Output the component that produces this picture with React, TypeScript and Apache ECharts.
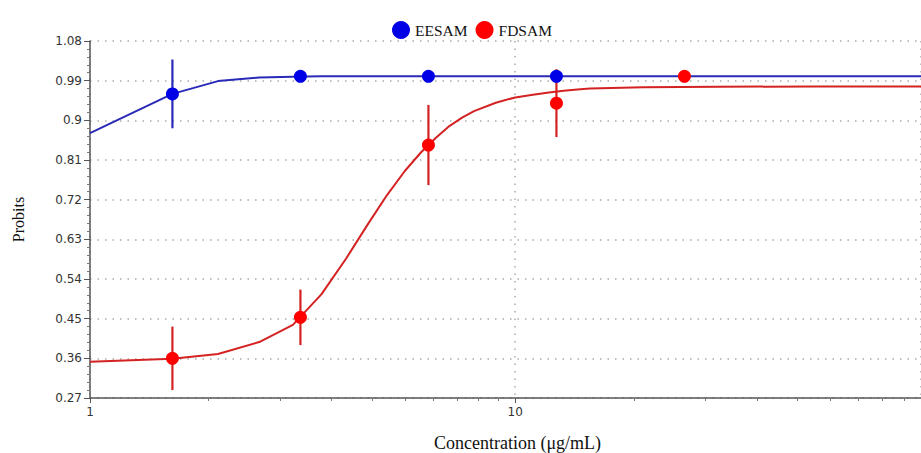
import React, { useEffect, useRef } from "react";
import * as echarts from "echarts";

// Measured points (concentration, probit)
const doseX = [1.5625, 3.125, 6.25, 12.5, 25];
const eesamY = [0.96, 1.0, 1.0, 1.0];
const eesamErr = [0.078, 0, 0, 0];
const fdsamY = [0.36, 0.453, 0.844, 0.939, 1.0];
const fdsamErr = [0.072, 0.063, 0.091, 0.077, 0];

// Fitted curves
const fitX = [1, 1.5625, 2, 2.5, 3, 3.5, 4, 4.5, 5, 5.5, 6, 6.5, 7, 7.5, 8, 9, 10, 11, 12, 13, 14, 15, 20, 30, 50, 90];
const eesamFit = [0.871, 0.96, 0.989, 0.997, 0.999, 1.0, 1.0, 1.0, 1.0, 1.0, 1.0, 1.0, 1.0, 1.0, 1.0, 1.0, 1.0, 1.0, 1.0, 1.0, 1.0, 1.0, 1.0, 1.0, 1.0, 1.0];
const fdsamFit = [0.352, 0.359, 0.37, 0.397, 0.436, 0.505, 0.586, 0.664, 0.731, 0.785, 0.827, 0.86, 0.887, 0.906, 0.921, 0.94, 0.952, 0.958, 0.963, 0.967, 0.97, 0.972, 0.975, 0.976, 0.977, 0.977];

const seriesNames = ["EESAM", "FDSAM"];
const yTicks = { min: 0.27, max: 1.08, interval: 0.09 };
const xRange = { min: 1, max: 90 };

const BLUE = "#0000e6";
const BLUE_LINE = "#2a2ab8";
const RED = "#ff0000";
const RED_LINE = "#d42222";

function errorSeries(name: string, ys: number[], errs: number[], color: string, z: number) {
  const data = ys.map((y, i) => [doseX[i], y, errs[i]]).filter((d) => d[2] > 0);
  return {
    type: "custom",
    name: name + " err",
    z,
    data,
    encode: { x: 0, y: 1 },
    renderItem: (params: any, api: any) => {
      const x = api.value(0);
      const y = api.value(1);
      const e = api.value(2);
      const p1 = api.coord([x, y - e]);
      const p2 = api.coord([x, y + e]);
      return {
        type: "line",
        shape: { x1: p1[0], y1: p1[1], x2: p2[0], y2: p2[1] },
        style: { stroke: color, lineWidth: 2.2 },
      };
    },
  };
}

export default function App() {
  const ref = useRef<HTMLDivElement>(null);
  useEffect(() => {
    if (!ref.current) return;
    const chart = echarts.init(ref.current, undefined, { renderer: "svg" });
    const axisColor = "#555";
    chart.setOption({
      animation: false,
      backgroundColor: "#fff",
      grid: { left: 90, right: 0, top: 41, bottom: 55, containLabel: false, outerBoundsMode: "none" },
      legend: {
        data: seriesNames,
        left: 387,
        top: 16,
        icon: "circle",
        itemWidth: 18,
        itemHeight: 18,
        itemGap: 8,
        textStyle: { fontFamily: "Liberation Serif", fontSize: 15.5, color: "#111" },
      },
      xAxis: {
        type: "log",
        logBase: 10,
        min: xRange.min,
        max: xRange.max,
        name: "Concentration (μg/mL)",
        nameLocation: "middle",
        nameGap: 36,
        nameTextStyle: { fontFamily: "Liberation Serif", fontSize: 18, color: "#111", padding: [0, 0, 0, 24] },
        axisLine: { lineStyle: { color: axisColor, width: 1.5 } },
        axisTick: { show: true, length: 5, lineStyle: { color: axisColor } },
        minorTick: { show: true, splitNumber: 10, length: 3, lineStyle: { color: "#777" } },
        axisLabel: {
          fontFamily: "DejaVu Sans",
          fontSize: 12,
          color: "#333",
          showMaxLabel: false,
          margin: 8,
        },
        splitLine: { show: true, lineStyle: { color: "#aaa", type: [1.5, 6], width: 1.5 } },
      },
      yAxis: {
        type: "value",
        min: yTicks.min,
        max: yTicks.max,
        interval: yTicks.interval,
        name: "Probits",
        nameLocation: "middle",
        nameGap: 64,
        nameTextStyle: { fontFamily: "Liberation Serif", fontSize: 16, color: "#111" },
        axisLine: { show: true, lineStyle: { color: axisColor, width: 1.5 } },
        axisTick: { show: true, length: 6, lineStyle: { color: axisColor } },
        minorTick: { show: true, splitNumber: 5, length: 3, lineStyle: { color: "#777" } },
        axisLabel: {
          fontFamily: "DejaVu Sans",
          fontSize: 12,
          color: "#333",
          margin: 8,
          formatter: (v: number) => String(+v.toFixed(2)),
        },
        splitLine: { show: true, lineStyle: { color: "#aaa", type: [1.5, 6], width: 1.5 } },
      },
      series: [
        {
          type: "line",
          name: "EESAM fit",
          data: fitX.map((x, i) => [x, eesamFit[i]]),
          showSymbol: false,
          lineStyle: { color: BLUE_LINE, width: 2 },
          itemStyle: { color: BLUE_LINE },
          z: 2,
          silent: true,
        },
        {
          type: "line",
          name: "FDSAM fit",
          data: fitX.map((x, i) => [x, fdsamFit[i]]),
          showSymbol: false,
          lineStyle: { color: RED_LINE, width: 2 },
          itemStyle: { color: RED_LINE },
          z: 2,
          silent: true,
        },
        errorSeries("FDSAM", fdsamY, fdsamErr, RED_LINE, 3),
        errorSeries("EESAM", eesamY, eesamErr, BLUE_LINE, 4),
        {
          type: "scatter",
          name: seriesNames[0],
          data: eesamY.map((y, i) => [doseX[i], y]),
          symbol: "circle",
          symbolSize: 13,
          itemStyle: { color: BLUE, opacity: 1 },
          z: 5,
        },
        {
          type: "scatter",
          name: seriesNames[1],
          data: fdsamY.map((y, i) => [doseX[i], y]),
          symbol: "circle",
          symbolSize: 13,
          itemStyle: { color: RED, opacity: 1 },
          z: 4,
        },
      ],
    });
    return () => chart.dispose();
  }, []);
  return (
    <div
      ref={ref}
      style={{ position: "fixed", left: 0, top: 0, width: 921, height: 453, background: "#fff" }}
    />
  );
}
